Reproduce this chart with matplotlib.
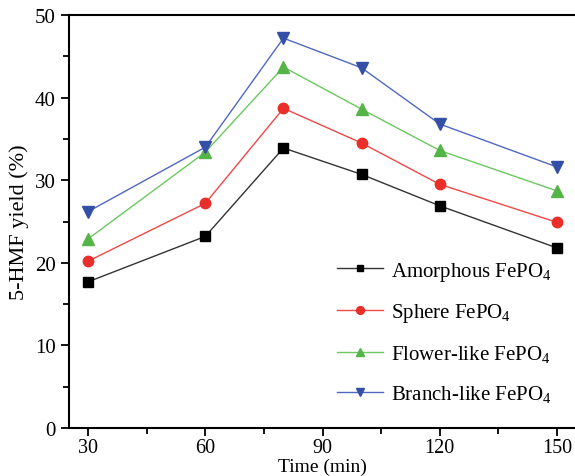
import matplotlib.pyplot as plt
from matplotlib.ticker import MultipleLocator

plt.rcParams['font.family'] = ['Liberation Serif', 'DejaVu Serif']
plt.rcParams['mathtext.fontset'] = 'custom'
plt.rcParams['mathtext.rm'] = 'Liberation Serif'

time = [30, 60, 80, 100, 120, 150]
amorphous = [17.7, 23.2, 33.9, 30.7, 26.9, 21.8]
sphere = [20.2, 27.2, 38.7, 34.5, 29.5, 24.9]
flower = [22.9, 33.4, 43.7, 38.6, 33.6, 28.7]
branch = [26.2, 34.0, 47.2, 43.6, 36.8, 31.6]

labels = [r"Amorphous FePO$_4$", r"Sphere FePO$_4$",
          r"Flower-like FePO$_4$", r"Branch-like FePO$_4$"]
series = [amorphous, sphere, flower, branch]
markers = ["s", "o", "^", "v"]
msizes = [6.5, 7.5, 8, 8]
mcolors = ["#000000", "#ea2e2a", "#55b447", "#3450a6"]
lcolors = ["#333333", "#f04848", "#6cc860", "#5068c0"]

fig = plt.figure(figsize=(5.75, 4.77), dpi=100)
ax = fig.add_axes([69/575, 48/477, 520/575, 413/477])

for y, lab, m, ms, mc, lc in zip(series, labels, markers, msizes, mcolors, lcolors):
    ax.plot(time, y, color=lc, lw=1.0, marker=m, markersize=ms,
            markerfacecolor=mc, markeredgecolor=mc, label=lab)

ax.set_xlim(25.1, 158.2)
ax.set_ylim(0, 50)
ax.xaxis.set_major_locator(MultipleLocator(30))
ax.xaxis.set_minor_locator(MultipleLocator(15))
ax.yaxis.set_major_locator(MultipleLocator(10))
ax.yaxis.set_minor_locator(MultipleLocator(5))
ax.tick_params(which='major', direction='out', length=6, width=1.3, labelsize=15)
ax.tick_params(which='minor', direction='out', length=4, width=1.3)
ax.tick_params(axis='x', pad=1, labelsize=14.5)
for s in ax.spines.values():
    s.set_linewidth(1.5)

# x label sits right at the bottom edge, as in the original
fig.text(322/575, 1/477, "Time (min)", fontsize=14, ha='center', va='bottom')
ax.set_ylabel("5-HMF yield (%)", fontsize=16, labelpad=4)

ax.legend(loc='lower right', bbox_to_anchor=(0.965, 0.01), frameon=False,
          fontsize=15, handlelength=2.2, labelspacing=0.9, markerscale=0.75,
          handletextpad=0.4)

fig.savefig("out.png", dpi=100)
